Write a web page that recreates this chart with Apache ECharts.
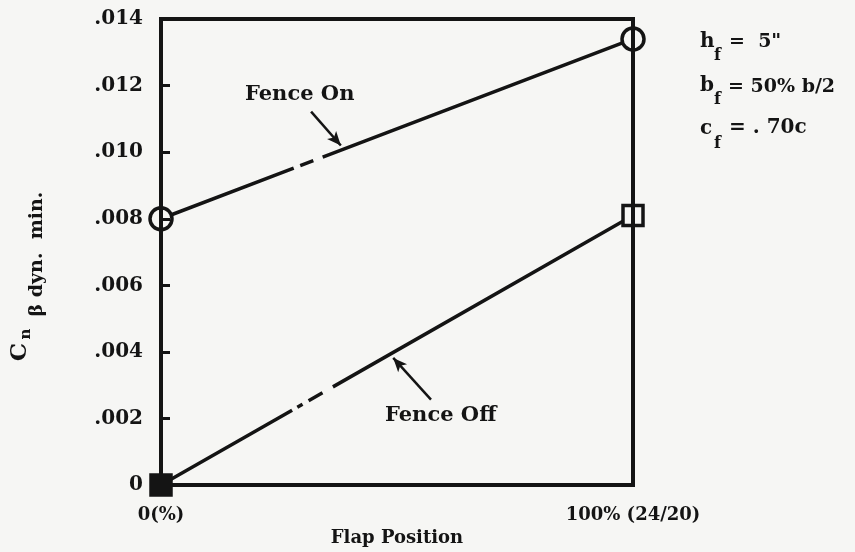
<!DOCTYPE html>
<html>
<head>
<meta charset="utf-8">
<script src="https://cdn.jsdelivr.net/npm/echarts@6/dist/echarts.min.js"></script>
<style>
  html, body { margin: 0; padding: 0; background: #f6f6f4; }
  #chart { width: 855px; height: 552px; }
</style>
</head>
<body>
<div id="chart"></div>
<script>
// Flap position (percent of full deflection) and minimum dynamic Cn-beta
const flapPos = [0, 100];
const fenceOn = [0.0080, 0.0134];
const fenceOff = [0.0000, 0.0081];

const xTickValues = [0, 100];
const xTickLabels = ['0(%)', '100% (24/20)'];
const yTickLabels = ['0', '.002', '.004', '.006', '.008', '.010', '.012', '.014'];

const INK = '#141414';
const FONT = 'DejaVu Serif';

const chart = echarts.init(document.getElementById('chart'), null, { renderer: 'canvas' });

function pairs(ys) {
  return flapPos.map((x, i) => [x, ys[i]]);
}

// heavy frame drawn by all four axes
const frameAxisLine = { show: true, onZero: false, lineStyle: { color: INK, width: 4, cap: 'square' } };

const option = {
  backgroundColor: '#f6f6f4',
  animation: false,
  grid: { left: 161, right: 222, top: 19, bottom: 64 },
  xAxis: [
    {
      type: 'value', min: 0, max: 100, interval: 100, z: 5,
      axisLine: frameAxisLine,
      axisTick: { show: false },
      splitLine: { show: false },
      axisLabel: {
        margin: 21, color: INK, fontFamily: FONT, fontWeight: 'bold', fontSize: 18,
        formatter: v => xTickLabels[xTickValues.indexOf(v)] || ''
      },
      name: 'Flap Position', nameLocation: 'middle', nameGap: 39,
      nameTextStyle: { color: INK, fontFamily: FONT, fontWeight: 'bold', fontSize: 18 }
    },
    {
      type: 'value', position: 'top', min: 0, max: 100, z: 5,
      axisLine: frameAxisLine, axisTick: { show: false },
      axisLabel: { show: false }, splitLine: { show: false }
    }
  ],
  yAxis: [
    {
      type: 'value', min: 0, max: 0.014, interval: 0.002, z: 5,
      axisLine: frameAxisLine,
      axisTick: { show: true, inside: true, length: 9, lineStyle: { color: INK, width: 3 } },
      splitLine: { show: false },
      axisLabel: {
        margin: 18, color: INK, fontFamily: FONT, fontWeight: 'bold', fontSize: 20,
        formatter: v => yTickLabels[Math.round(v / 0.002)]
      }
    },
    {
      type: 'value', position: 'right', min: 0, max: 0.014, z: 5,
      axisLine: frameAxisLine, axisTick: { show: false },
      axisLabel: { show: false }, splitLine: { show: false }
    }
  ],
  series: [
    {
      name: 'Fence On', type: 'line', z: 3,
      data: pairs(fenceOn),
      symbol: 'circle', symbolSize: 22,
      itemStyle: { color: '#f6f6f4', borderColor: INK, borderWidth: 3.5 },
      lineStyle: { color: INK, width: 3.5, type: [142, 7, 14, 10, 2000] },
      markLine: {
        silent: true, symbol: ['none', 'arrow'], symbolSize: [9, 14],
        label: { show: false },
        lineStyle: { color: INK, width: 2.5, type: 'solid' },
        data: [[{ coord: [31.8, 0.01122] }, { coord: [38.1, 0.0102] }]]
      }
    },
    {
      name: 'Fence Off', type: 'line', z: 3,
      data: pairs(fenceOff).map((p, i) => i === 0
        ? { value: p, itemStyle: { color: INK } }
        : { value: p }),
      symbol: 'rect', symbolSize: 20,
      itemStyle: { color: '#f6f6f4', borderColor: INK, borderWidth: 3.5 },
      lineStyle: { color: INK, width: 3.5, type: [151, 6, 6, 7, 16, 12, 2000] },
      markLine: {
        silent: true, symbol: ['none', 'arrow'], symbolSize: [9, 14],
        label: { show: false },
        lineStyle: { color: INK, width: 2.5, type: 'solid' },
        data: [[{ coord: [57.2, 0.00257] }, { coord: [49.2, 0.00382] }]]
      }
    }
  ],
  graphic: [
    // curve labels
    { type: 'text', left: 245, top: 84, z: 10,
      style: { text: 'Fence On', fill: INK, font: 'bold 21px "DejaVu Serif"' } },
    { type: 'text', left: 385, top: 405, z: 10,
      style: { text: 'Fence Off', fill: INK, font: 'bold 21px "DejaVu Serif"' } },

    // y-axis title: C sub n-beta dyn. min.
    { type: 'text', x: 20, y: 352, rotation: Math.PI / 2, z: 10,
      style: { text: 'C', fill: INK, font: 'bold 23px "DejaVu Serif"', align: 'center', verticalAlign: 'middle' } },
    { type: 'text', x: 26, y: 334, rotation: Math.PI / 2, z: 10,
      style: { text: 'n', fill: INK, font: 'bold 15px "DejaVu Serif"', align: 'center', verticalAlign: 'middle' } },
    { type: 'text', x: 37, y: 254, rotation: Math.PI / 2, z: 10,
      style: { text: 'β dyn.  min.', fill: INK, font: 'bold 19px "DejaVu Serif"', align: 'center', verticalAlign: 'middle' } },

    // fence geometry notes
    { type: 'text', x: 700, y: 42, z: 10,
      style: { text: 'h', fill: INK, font: 'bold 20px "DejaVu Serif"', verticalAlign: 'middle' } },
    { type: 'text', x: 714, y: 56, z: 10,
      style: { text: 'f', fill: INK, font: 'bold 16px "DejaVu Serif"', verticalAlign: 'middle' } },
    { type: 'text', x: 729, y: 42, z: 10,
      style: { text: '=  5"', fill: INK, font: 'bold 19px "DejaVu Serif"', verticalAlign: 'middle' } },

    { type: 'text', x: 700, y: 86, z: 10,
      style: { text: 'b', fill: INK, font: 'bold 20px "DejaVu Serif"', verticalAlign: 'middle' } },
    { type: 'text', x: 714, y: 100, z: 10,
      style: { text: 'f', fill: INK, font: 'bold 16px "DejaVu Serif"', verticalAlign: 'middle' } },
    { type: 'text', x: 728, y: 87, z: 10,
      style: { text: '= 50% b/2', fill: INK, font: 'bold 19px "DejaVu Serif"', verticalAlign: 'middle' } },

    { type: 'text', x: 700, y: 129, z: 10,
      style: { text: 'c', fill: INK, font: 'bold 20px "DejaVu Serif"', verticalAlign: 'middle' } },
    { type: 'text', x: 714, y: 144, z: 10,
      style: { text: 'f', fill: INK, font: 'bold 16px "DejaVu Serif"', verticalAlign: 'middle' } },
    { type: 'text', x: 729, y: 128, z: 10,
      style: { text: '= . 70c', fill: INK, font: 'bold 20px "DejaVu Serif"', verticalAlign: 'middle' } }
  ]
};

chart.setOption(option);
</script>
</body>
</html>
